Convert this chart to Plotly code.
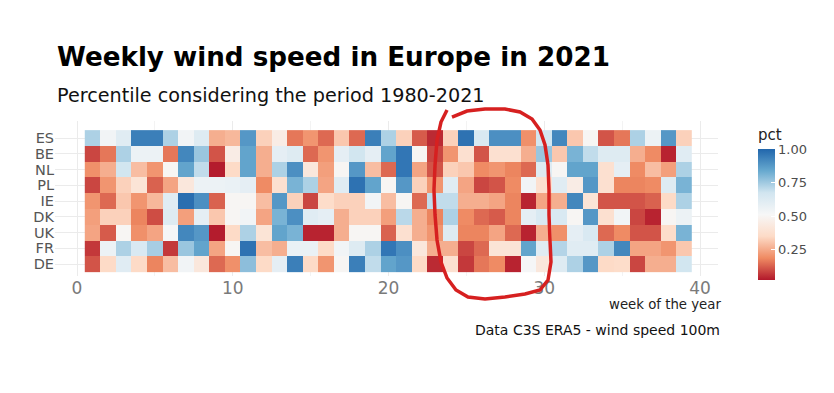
import plotly.graph_objects as go

# ---------------- data ----------------
weeks = list(range(1, 40))
countries_top_to_bottom = ["ES", "BE", "NL", "PL", "IE", "DK", "UK", "FR", "DE"]

ES = [0.73, 0.54, 0.61, 0.94, 0.94, 0.73, 0.54, 0.62, 0.26, 0.28,
      0.88, 0.33, 0.45, 0.16, 0.21, 0.14, 0.31, 0.14, 0.94, 0.73,
      0.33, 0.12, 0.05, 0.33, 0.97, 0.64, 0.90, 0.90, 0.20, 0.67,
      0.92, 0.31, 0.50, 0.11, 0.16, 0.73, 0.56, 0.88, 0.33]
BE = [0.09, 0.16, 0.73, 0.56, 0.56, 0.16, 0.92, 0.76, 0.11, 0.45,
      0.85, 0.26, 0.59, 0.62, 0.14, 0.21, 0.59, 0.67, 0.59, 0.85,
      0.96, 0.50, 0.09, 0.21, 0.38, 0.11, 0.38, 0.38, 0.26, 0.76,
      0.31, 0.81, 0.70, 0.62, 0.62, 0.26, 0.19, 0.04, 0.61]
NL = [0.20, 0.26, 0.67, 0.29, 0.21, 0.50, 0.85, 0.70, 0.03, 0.35,
      0.85, 0.26, 0.73, 0.90, 0.42, 0.23, 0.50, 0.88, 0.29, 0.14,
      0.96, 0.24, 0.11, 0.33, 0.31, 0.19, 0.21, 0.18, 0.14, 0.62,
      0.50, 0.85, 0.85, 0.38, 0.59, 0.19, 0.29, 0.23, 0.73]
PL = [0.09, 0.21, 0.33, 0.40, 0.13, 0.24, 0.42, 0.56, 0.56, 0.57,
      0.59, 0.19, 0.38, 0.81, 0.73, 0.24, 0.61, 0.97, 0.85, 0.50,
      0.88, 0.33, 0.21, 0.61, 0.24, 0.09, 0.11, 0.19, 0.54, 0.38,
      0.61, 0.45, 0.88, 0.38, 0.18, 0.18, 0.19, 0.62, 0.81]
IE = [0.21, 0.14, 0.31, 0.21, 0.28, 0.61, 0.98, 0.90, 0.13, 0.50,
      0.50, 0.29, 0.88, 0.33, 0.09, 0.36, 0.33, 0.33, 0.54, 0.29,
      0.50, 0.14, 0.70, 0.70, 0.26, 0.26, 0.24, 0.18, 0.04, 0.24,
      0.26, 0.92, 0.40, 0.11, 0.11, 0.11, 0.13, 0.35, 0.73]
DK = [0.23, 0.33, 0.33, 0.18, 0.10, 0.62, 0.23, 0.59, 0.31, 0.50,
      0.54, 0.24, 0.81, 0.90, 0.61, 0.59, 0.26, 0.33, 0.33, 0.23,
      0.71, 0.26, 0.18, 0.73, 0.19, 0.14, 0.12, 0.18, 0.59, 0.64,
      0.64, 0.50, 0.88, 0.38, 0.54, 0.09, 0.04, 0.50, 0.56]
UK = [0.24, 0.12, 0.50, 0.20, 0.24, 0.52, 0.92, 0.88, 0.03, 0.35,
      0.73, 0.40, 0.85, 0.81, 0.04, 0.04, 0.26, 0.50, 0.50, 0.13,
      0.38, 0.26, 0.21, 0.62, 0.18, 0.18, 0.24, 0.14, 0.04, 0.26,
      0.20, 0.59, 0.64, 0.14, 0.19, 0.11, 0.11, 0.36, 0.81]
FR = [0.07, 0.56, 0.73, 0.64, 0.74, 0.07, 0.76, 0.85, 0.24, 0.50,
      0.97, 0.29, 0.26, 0.57, 0.57, 0.35, 0.54, 0.62, 0.73, 0.96,
      0.90, 0.42, 0.26, 0.26, 0.09, 0.14, 0.40, 0.40, 0.85, 0.61,
      0.72, 0.61, 0.61, 0.73, 0.92, 0.24, 0.24, 0.21, 0.31]
DE = [0.11, 0.35, 0.61, 0.35, 0.18, 0.29, 0.54, 0.42, 0.14, 0.20,
      0.78, 0.35, 0.59, 0.94, 0.35, 0.21, 0.50, 0.94, 0.70, 0.85,
      0.88, 0.35, 0.05, 0.38, 0.07, 0.16, 0.19, 0.04, 0.52, 0.42,
      0.62, 0.73, 0.88, 0.35, 0.36, 0.09, 0.26, 0.26, 0.67]

series = {"ES": ES, "BE": BE, "NL": NL, "PL": PL, "IE": IE,
          "DK": DK, "UK": UK, "FR": FR, "DE": DE}

x_ticks = [0, 10, 20, 30, 40]
cbar_ticks = [0.25, 0.50, 0.75, 1.00]

# ---------------- layout constants ----------------
W, H = 834, 393
L, R, T, B = 55, 834 - 718, 121, 393 - 276
PW, PH = W - L - R, H - T - B


def px2paper(px, py):
    return (px - L) / PW, (H - B - py) / PH


rows = list(reversed(countries_top_to_bottom))  # bottom -> top
z = [series[c] for c in rows]

rdbu7 = ["#B2182B", "#EF8A62", "#FDDBC7", "#F7F7F7", "#D1E5F0", "#67A9CF", "#2166AC"]
colorscale = [[i / 6, c] for i, c in enumerate(rdbu7)]

cb_x, _ = px2paper(758, 0)
_, cb_y = px2paper(0, 203)

fig = go.Figure()
fig.add_trace(go.Heatmap(
    x=weeks, y=rows, z=z,
    colorscale=colorscale, zmin=0.025, zmax=1.0,
    xgap=0, ygap=0,
    colorbar=dict(
        title=dict(text="pct", side="top", font=dict(size=15, color="#222", family="DejaVu Sans")),
        x=cb_x, xanchor="left", xpad=0,
        y=cb_y, yanchor="middle", ypad=0,
        len=154, lenmode="pixels", thickness=17,
        outlinewidth=0,
        tickvals=cbar_ticks, ticktext=[f"{v:.2f}" for v in cbar_ticks],
        ticks="inside", ticklen=4, tickcolor="white",
        tickfont=dict(size=13, color="#4D4D4D", family="DejaVu Sans"),
    ),
))

fig.update_xaxes(
    range=[(L - 77) / 15.575, 40 + (718 - 700) / 15.575],
    tickvals=x_ticks, showgrid=True, gridcolor="#EBEBEB", gridwidth=1,
    minor=dict(dtick=5, showgrid=True, gridcolor="#F3F3F3", gridwidth=0.5),
    zeroline=False, showline=False, ticks="",
    tickfont=dict(size=17, color="#7A7A7A", family="DejaVu Sans"),
)
fig.update_yaxes(
    type="category", categoryorder="array", categoryarray=rows,
    tickmode="array", tickvals=rows, ticktext=rows,
    range=[-0.76, 9.08],
    showgrid=True, gridcolor="#EBEBEB", gridwidth=1,
    zeroline=False, showline=False, ticks="",
    tickfont=dict(size=14.5, color="#555555", family="DejaVu Sans"),
)

annotations = []
tx, ty = px2paper(L, 57)
annotations.append(dict(text="<b>Weekly wind speed in Europe in 2021</b>", x=tx, y=ty,
                        xref="paper", yref="paper", xanchor="left", yanchor="middle",
                        showarrow=False, font=dict(size=26.2, color="#000", family="DejaVu Sans")))
sx, sy = px2paper(L, 96)
annotations.append(dict(text="Percentile considering the period 1980-2021", x=sx, y=sy,
                        xref="paper", yref="paper", xanchor="left", yanchor="middle",
                        showarrow=False, font=dict(size=19.2, color="#111", family="DejaVu Sans")))
ax_, ay_ = px2paper(723, 304)
annotations.append(dict(text="week of the year", x=ax_, y=ay_,
                        xref="paper", yref="paper", xanchor="right", yanchor="middle",
                        showarrow=False, font=dict(size=13.3, color="#222", family="DejaVu Sans")))
cx, cy = px2paper(722, 330)
annotations.append(dict(text="Data C3S ERA5 - wind speed 100m", x=cx, y=cy,
                        xref="paper", yref="paper", xanchor="right", yanchor="middle",
                        showarrow=False, font=dict(size=14, color="#111", family="DejaVu Sans")))

# hand-drawn red loop (decoration)
loop_px = [(447, 110), (441, 122), (437, 140), (435, 165), (434, 190), (435, 215),
           (437, 240), (441, 262), (447, 278), (456, 290), (468, 297), (485, 299),
           (505, 297), (525, 294), (540, 290), (548, 280), (551, 262), (550, 240),
           (549, 215), (549, 190), (548, 165), (545, 145), (540, 130), (532, 119),
           (520, 112), (505, 109), (485, 109), (467, 111), (452, 117)]
pts = [px2paper(a, b) for a, b in loop_px]
path = "M " + " L ".join(f"{a:.4f},{b:.4f}" for a, b in pts)

fig.update_layout(
    width=W, height=H,
    margin=dict(l=L, r=R, t=T, b=B, autoexpand=False),
    paper_bgcolor="white", plot_bgcolor="white",
    annotations=annotations,
    shapes=[dict(type="path", path=path, xref="paper", yref="paper",
                 line=dict(color="rgb(214,32,32)", width=3.5))],
    font=dict(family="DejaVu Sans"),
)

fig.write_html("out.html", config={"displayModeBar": False},
               post_script="document.body.style.margin='0';")
